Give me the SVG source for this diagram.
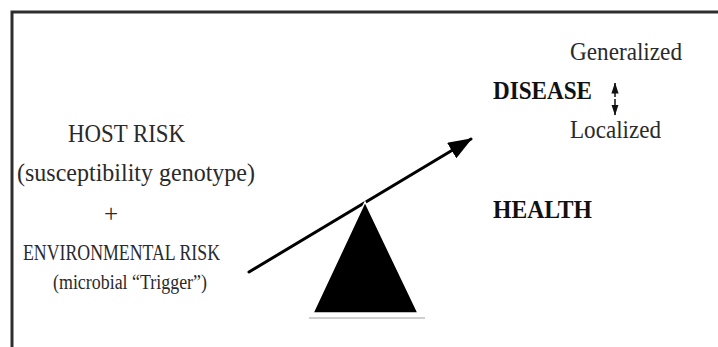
<svg xmlns="http://www.w3.org/2000/svg" width="718" height="347" viewBox="0 0 718 347">
<style>
text{font-family:"Liberation Serif","Times New Roman",serif;fill:#2a2a2a}
.b{font-weight:bold;fill:#111}
</style>
<defs>
<marker id="ah" markerWidth="8" markerHeight="6" refX="7.5" refY="3" orient="auto" markerUnits="strokeWidth">
<path d="M0,0 L8,3 L0,6 z" fill="#000"/>
</marker>
<marker id="sh" markerWidth="11" markerHeight="8" refX="10.5" refY="4" orient="auto" markerUnits="userSpaceOnUse">
<path d="M0,0.4 L11,4 L0,7.6 z" fill="#111"/>
</marker>
</defs>
<rect width="718" height="347" fill="#fff"/>
<g id="frame" fill="none" stroke="#2e2e2e" stroke-width="3">
<path d="M12,347 L12,12 L718,12"/>
</g>
<g id="host-risk">
<text x="68" y="142" font-size="26" textLength="117" lengthAdjust="spacingAndGlyphs">HOST RISK</text>
<text x="17" y="181" font-size="26" textLength="238" lengthAdjust="spacingAndGlyphs">(susceptibility genotype)</text>
</g>
<g id="plus"><text x="111" y="222" font-size="25" text-anchor="middle">+</text></g>
<g id="env-risk">
<text x="23" y="260" font-size="24" textLength="197" lengthAdjust="spacingAndGlyphs">ENVIRONMENTAL RISK</text>
<text x="53" y="289" font-size="20" textLength="154" lengthAdjust="spacingAndGlyphs">(microbial “Trigger”)</text>
</g>
<g id="connectors">
<line x1="249" y1="272" x2="471" y2="139" stroke="#000" stroke-width="3" stroke-linecap="round" marker-end="url(#ah)"/>
<line x1="615" y1="97" x2="615" y2="83" stroke="#111" stroke-width="1.5" marker-end="url(#sh)"/>
<line x1="615" y1="99" x2="615" y2="115" stroke="#111" stroke-width="1.5" marker-end="url(#sh)"/>
</g>
<g id="fulcrum">
<line x1="309" y1="318" x2="425" y2="318" stroke="#cfcfcf" stroke-width="2"/>
<polygon points="365,202 313,313 418,313" fill="#000" stroke="#fff" stroke-width="1.5" stroke-linejoin="miter"/>
</g>
<g id="disease">
<text class="b" x="493" y="99" font-size="25" textLength="99" lengthAdjust="spacingAndGlyphs">DISEASE</text>
</g>
<g id="generalized"><text x="570" y="60" font-size="25" textLength="112" lengthAdjust="spacingAndGlyphs">Generalized</text></g>
<g id="localized"><text x="570" y="138" font-size="25" textLength="91" lengthAdjust="spacingAndGlyphs">Localized</text></g>
<g id="health"><text class="b" x="493" y="218" font-size="25" textLength="99" lengthAdjust="spacingAndGlyphs">HEALTH</text></g>
</svg>
